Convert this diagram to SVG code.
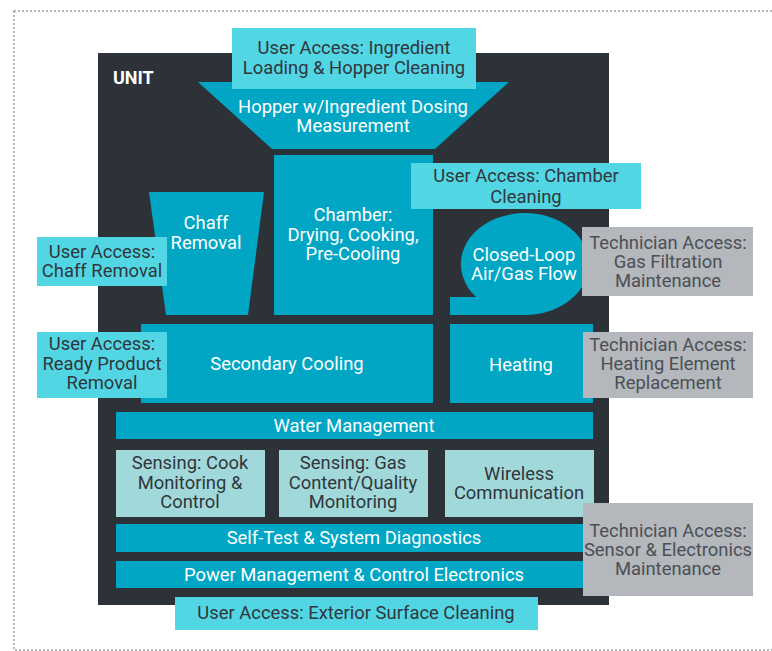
<svg xmlns="http://www.w3.org/2000/svg" width="772" height="651" viewBox="0 0 772 651">
  <style>
    .frame { fill: none; stroke: #b8b8b8; stroke-width: 2; stroke-dasharray: 2 2; }
    .unit { fill: #2d3238; }
    .blk { fill: #00a6c4; }
    .ua { fill: #52d6e4; }
    .sens { fill: #a1d9da; }
    .tech { fill: #b4b7bb; }
    text { font-family: Roboto, "Liberation Sans", sans-serif; font-size: 18.4px; text-anchor: middle; dominant-baseline: central; }
    .w { fill: #ffffff; }
    .d { fill: #30363c; }
    .g { fill: #4b5056; }
    .title { font-weight: bold; text-anchor: start; font-size: 18px; fill: #ffffff; }
  </style>

  <rect class="frame" x="14" y="11" width="770" height="639"/>

  <g id="unit">
    <rect class="unit" x="98" y="53" width="511" height="552"/>
    <text class="title" x="113" y="77">UNIT</text>
  </g>

  <g id="hopper">
    <polygon class="blk" points="198,82 509,82 435,149 272,149"/>
    <text class="w" x="353" y="106">Hopper w/Ingredient Dosing</text>
    <text class="w" x="353" y="125">Measurement</text>
  </g>

  <g id="ua-ingredient">
    <rect class="ua" x="232" y="28" width="244" height="61"/>
    <text class="d" x="354" y="47">User Access: Ingredient</text>
    <text class="d" x="354" y="67">Loading &amp; Hopper Cleaning</text>
  </g>

  <g id="chamber">
    <rect class="blk" x="274" y="155" width="159" height="160"/>
    <text class="w" x="353" y="214">Chamber:</text>
    <text class="w" x="353" y="234">Drying, Cooking,</text>
    <text class="w" x="353" y="253">Pre-Cooling</text>
  </g>

  <g id="chaff">
    <polygon class="blk" points="149,192 264,192 248,315 166,315"/>
    <text class="w" x="206" y="222">Chaff</text>
    <text class="w" x="206" y="242">Removal</text>
  </g>

  <g id="ua-chaff">
    <rect class="ua" x="37" y="237" width="130" height="49"/>
    <text class="d" x="102" y="251">User Access:</text>
    <text class="d" x="102" y="270">Chaff Removal</text>
  </g>

  <g id="closed-loop">
    <path class="blk" d="M450,315 L450,297 L476,297 A64,51 0 1 1 523,315 Z"/>
    <text class="w" x="524" y="254">Closed-Loop</text>
    <text class="w" x="524" y="273">Air/Gas Flow</text>
  </g>

  <g id="ua-chamber">
    <rect class="ua" x="411" y="163" width="230" height="46"/>
    <text class="d" x="526" y="175">User Access: Chamber</text>
    <text class="d" x="526" y="196">Cleaning</text>
  </g>

  <g id="tech-gas">
    <rect class="tech" x="582" y="227" width="171" height="69"/>
    <text class="g" x="668" y="242">Technician Access:</text>
    <text class="g" x="668" y="261">Gas Filtration</text>
    <text class="g" x="668" y="280">Maintenance</text>
  </g>

  <g id="secondary-cooling">
    <rect class="blk" x="141" y="324" width="292" height="79"/>
    <text class="w" x="287" y="363">Secondary Cooling</text>
  </g>

  <g id="ua-ready">
    <rect class="ua" x="37" y="332" width="130" height="66"/>
    <text class="d" x="102" y="343">User Access:</text>
    <text class="d" x="102" y="363">Ready Product</text>
    <text class="d" x="102" y="382">Removal</text>
  </g>

  <g id="heating">
    <rect class="blk" x="450" y="324" width="143" height="79"/>
    <text class="w" x="521" y="364">Heating</text>
  </g>

  <g id="tech-heating">
    <rect class="tech" x="583" y="332" width="170" height="66"/>
    <text class="g" x="668" y="344">Technician Access:</text>
    <text class="g" x="668" y="363">Heating Element</text>
    <text class="g" x="668" y="382">Replacement</text>
  </g>

  <g id="water">
    <rect class="blk" x="116" y="412" width="477" height="27"/>
    <text class="w" x="354" y="425">Water Management</text>
  </g>

  <g id="sensing-cook">
    <rect class="sens" x="116" y="450" width="149" height="67"/>
    <text class="d" x="190" y="462">Sensing: Cook</text>
    <text class="d" x="190" y="482">Monitoring &amp;</text>
    <text class="d" x="190" y="501">Control</text>
  </g>

  <g id="sensing-gas">
    <rect class="sens" x="279" y="450" width="149" height="67"/>
    <text class="d" x="353" y="462">Sensing: Gas</text>
    <text class="d" x="353" y="482">Content/Quality</text>
    <text class="d" x="353" y="501">Monitoring</text>
  </g>

  <g id="wireless">
    <rect class="sens" x="445" y="450" width="149" height="67"/>
    <text class="d" x="519" y="473">Wireless</text>
    <text class="d" x="519" y="492">Communication</text>
  </g>

  <g id="self-test">
    <rect class="blk" x="116" y="524" width="477" height="28"/>
    <text class="w" x="354" y="537">Self-Test &amp; System Diagnostics</text>
  </g>

  <g id="power">
    <rect class="blk" x="116" y="561" width="477" height="27"/>
    <text class="w" x="354" y="574">Power Management &amp; Control Electronics</text>
  </g>

  <g id="tech-sensor">
    <rect class="tech" x="583" y="503" width="170" height="93"/>
    <text class="g" x="668" y="530">Technician Access:</text>
    <text class="g" x="668" y="549">Sensor &amp; Electronics</text>
    <text class="g" x="668" y="568">Maintenance</text>
  </g>

  <g id="ua-exterior">
    <rect class="ua" x="175" y="597" width="363" height="33"/>
    <text class="d" x="356" y="612">User Access: Exterior Surface Cleaning</text>
  </g>

  <g id="connectors"></g>
</svg>
